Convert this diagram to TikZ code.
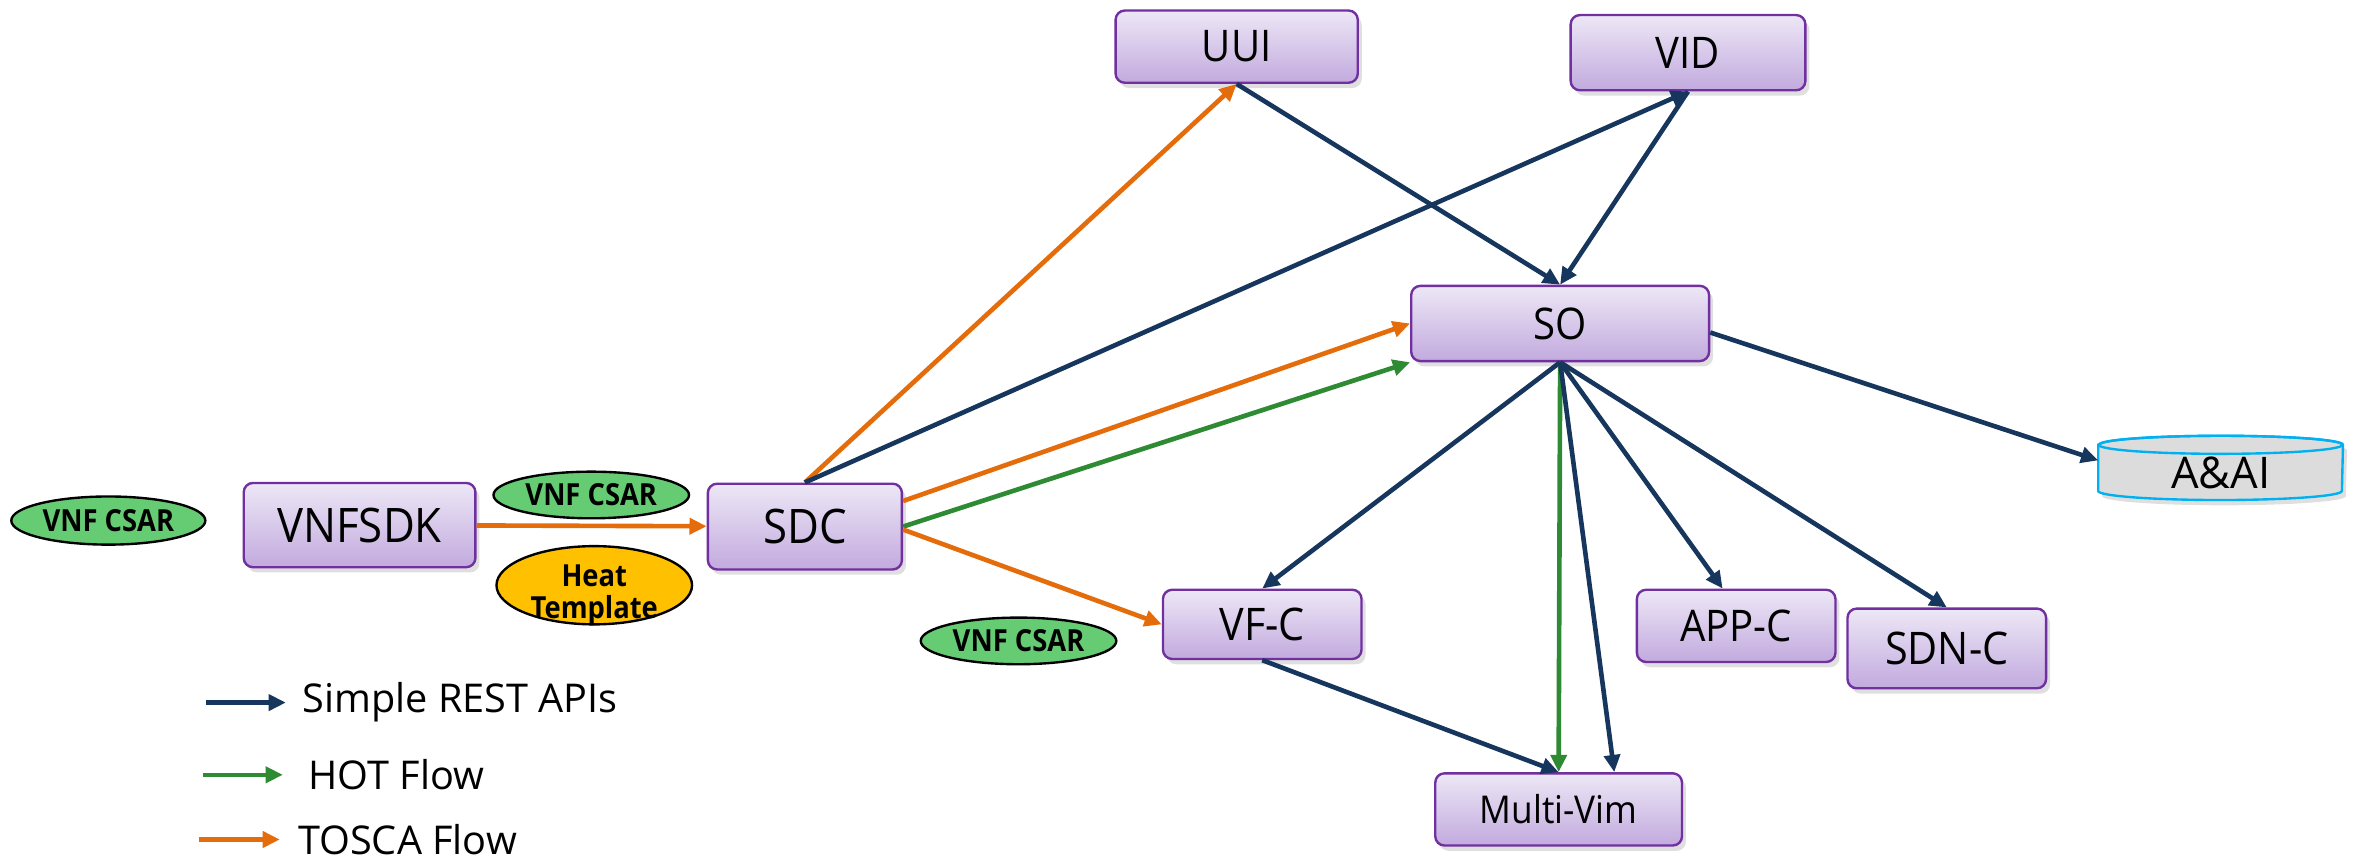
\documentclass[tikz,border=0pt]{standalone}
\usepackage{fontspec}
\setmainfont{Open Sans}
\newfontfamily\boxfont[FakeStretch=0.92]{Open Sans}
\newfontfamily\condfont[FakeStretch=0.9]{Open Sans}
\usetikzlibrary{arrows.meta,shadows,shapes.geometric}

\definecolor{restblue}{RGB}{23,54,93}
\definecolor{toscaorange}{RGB}{228,108,10}
\definecolor{hotgreen}{RGB}{46,139,52}
\definecolor{boxline}{RGB}{112,48,160}
\definecolor{boxtop}{RGB}{237,231,246}
\definecolor{boxbot}{RGB}{194,170,222}
\definecolor{csargreen}{RGB}{102,204,116}
\definecolor{heatyellow}{RGB}{255,192,0}
\definecolor{aaigray}{RGB}{220,220,220}
\definecolor{aaiblue}{RGB}{0,176,240}

\newcommand{\pxu}{0.02cm}

\tikzset{
  onapbox/.style={draw=boxline, line width=0.9pt, rounded corners=3.5pt,
    top color=boxtop, bottom color=boxbot, inner sep=0pt,
    font=\boxfont\fontsize{16.5}{18}\selectfont,
    drop shadow={shadow xshift=1.5pt,shadow yshift=-2pt,opacity=0.25}},
  artifact/.style={ellipse, draw=black, line width=0.9pt, inner sep=0pt,
    align=center, font=\condfont\bfseries\fontsize{11.5}{14}\selectfont},
  legendtext/.style={anchor=west, font=\fontsize{15}{18}\selectfont},
  rest/.style={restblue, line width=1.75pt, -{Triangle[length=6.5pt,width=6pt]}},
  hot/.style={rest, hotgreen},
  tosca/.style={rest, toscaorange},
}

\begin{document}
\begin{tikzpicture}[x=\pxu,y=-\pxu]
    \useasboundingbox (0,0) rectangle (1568,572);

    % components
    \node[onapbox, minimum width=154*\pxu, minimum height=56*\pxu,
      font=\boxfont\fontsize{18}{20}\selectfont] (vnfsdk) at (239,349) {VNFSDK};
    \node[onapbox, minimum width=129*\pxu, minimum height=57*\pxu,
      font=\boxfont\fontsize{18}{20}\selectfont] (sdc) at (535,350) {SDC};
    \node[onapbox, minimum width=161*\pxu, minimum height=48*\pxu] (uui) at (822,31) {UUI};
    \node[onapbox, minimum width=156*\pxu, minimum height=50*\pxu] (vid) at (1122,35) {VID};
    \node[onapbox, minimum width=198*\pxu, minimum height=50*\pxu] (so) at (1037,215) {SO};
    \node[onapbox, minimum width=132*\pxu, minimum height=46*\pxu,
      font=\boxfont\fontsize{17}{19}\selectfont] (vfc) at (839,415) {VF-C};
    \node[onapbox, minimum width=132*\pxu, minimum height=48*\pxu] (appc) at (1154,416) {APP-C};
    \node[onapbox, minimum width=132*\pxu, minimum height=53*\pxu,
      font=\boxfont\fontsize{17}{19}\selectfont] (sdnc) at (1294,431) {SDN-C};
    \node[onapbox, minimum width=164*\pxu, minimum height=48*\pxu,
      font=\boxfont\fontsize{14.5}{17}\selectfont] (multivim) at (1036,538) {Multi-Vim};

    % A&AI database
    \node[minimum width=162*\pxu, minimum height=42*\pxu, inner sep=0pt] (aai) at (1476,311) {};
    \filldraw[fill=aaigray, draw=aaiblue, line width=0.9pt,
      drop shadow={shadow xshift=1.5pt,shadow yshift=-2pt,opacity=0.25}]
      ([yshift=-0.12cm]aai.north west) -- ([yshift=0.12cm]aai.south west)
      arc[start angle=180, end angle=360, x radius=1.62cm, y radius=0.12cm]
      -- ([yshift=-0.12cm]aai.north east)
      arc[start angle=0, end angle=180, x radius=1.62cm, y radius=0.12cm] -- cycle;
    \draw[aaiblue, line width=0.9pt] ([yshift=-0.12cm]aai.north) ellipse[x radius=1.62cm, y radius=0.12cm];
    \node[font=\fontsize{16.5}{18}\selectfont] (aailbl) at ([yshift=-0.06cm]aai.center) {A\&AI};

    % artifacts
    \node[artifact, fill=csargreen, minimum width=129*\pxu, minimum height=32*\pxu] (csarA) at (72,346) {VNF CSAR};
    \node[artifact, fill=csargreen, minimum width=130*\pxu, minimum height=31*\pxu] (csarB) at (393,329) {VNF CSAR};
    \node[artifact, fill=heatyellow, minimum width=130*\pxu, minimum height=52*\pxu] (heat) at (395,389) {};
    \node[align=center, font=\condfont\bfseries\fontsize{11.5}{14}\selectfont] (heatlbl)
      at ([yshift=-0.13cm]heat.center) {Heat\\[-2pt]Template};
    \node[artifact, fill=csargreen, minimum width=130*\pxu, minimum height=31*\pxu] (csarC) at (677,426) {VNF CSAR};

    % flows
    \draw[tosca] (vnfsdk) -- (sdc);
    \draw[tosca] (sdc.north) -- (uui.south);
    \draw[rest] (sdc.north) -- (vid.south);
    \draw[rest] (uui.south) -- (so.north);
    \draw[rest] (vid.south) -- (so.north);
    \draw[tosca] ([yshift=0.34cm]sdc.east) -- (so.west);
    \draw[hot] (sdc.east) -- (so.south west);
    \draw[tosca] ([yshift=-0.04cm]sdc.east) -- (vfc.west);
    \draw[rest] ([yshift=-0.12cm]so.east) -- ([yshift=0.1cm]aai.west);
    \draw[rest] (so.south) -- (vfc.north);
    \draw[rest] (so.south) -- ([xshift=-0.18cm]appc.north);
    \draw[rest] (so.south) -- (sdnc.north);
    \draw[hot] (so.south) -- (multivim.north);
    \draw[rest] (so.south) -- ([xshift=0.74cm]multivim.north);
    \draw[rest] (vfc.south) -- (multivim.north);

    % legend
    \node[legendtext] (restlbl) at (195,467) {Simple REST APIs};
    \node[legendtext] (hotlbl) at (199,515) {HOT Flow};
    \node[legendtext] (toscalbl) at (192,558) {TOSCA Flow};
    \draw[rest] ([xshift=-1.16cm]restlbl.west) -- ([xshift=-0.1cm]restlbl.west);
    \draw[hot] ([xshift=-1.28cm]hotlbl.west) -- ([xshift=-0.22cm]hotlbl.west);
    \draw[tosca] ([xshift=-1.2cm]toscalbl.west) -- ([xshift=-0.12cm]toscalbl.west);
\end{tikzpicture}
\end{document}
